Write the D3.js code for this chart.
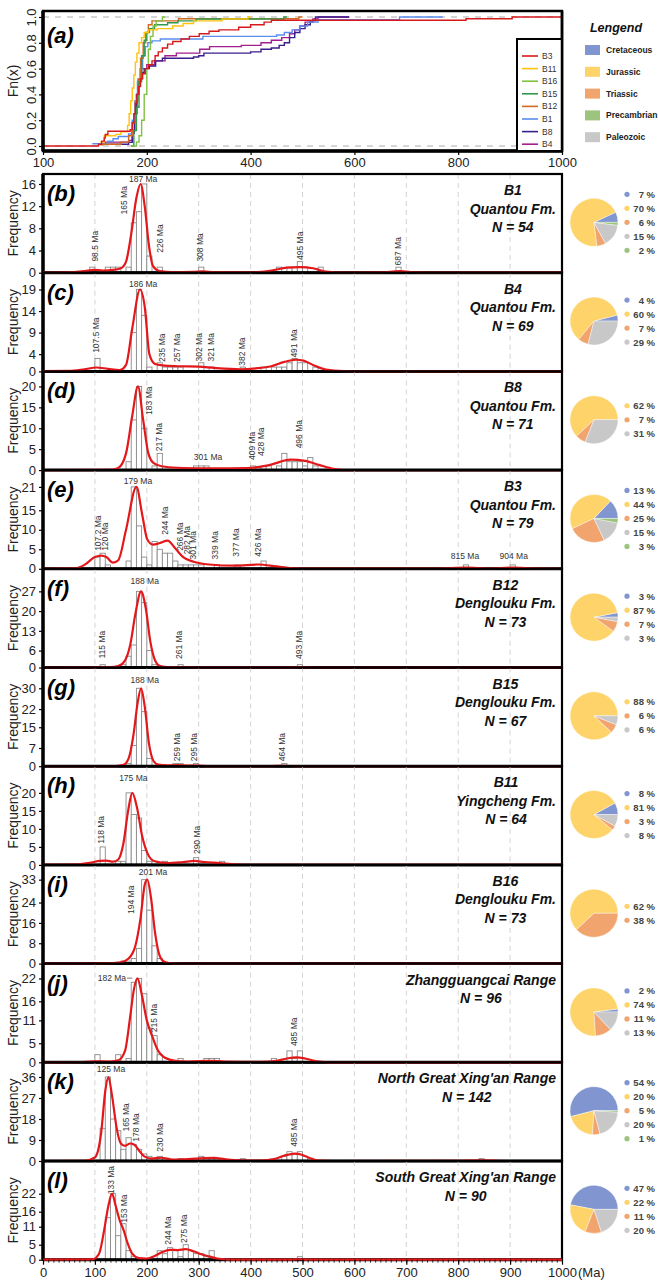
<!DOCTYPE html>
<html>
<head>
<meta charset="utf-8">
<script src="https://cdn.jsdelivr.net/npm/d3@7"></script>
<style>
  body { margin: 0; background: #fff; }
  svg { display: block; }
  text { font-family: "Liberation Sans", Arial, sans-serif; }
</style>
</head>
<body>
<svg id="chart" width="658" height="1286"></svg>
<script>
// ---- data: panel (a), cumulative curves ----
const cdfTickVals = [0, 200, 400, 600, 800, 1000];
const cdfTickLabels = ["100", "200", "400", "600", "800", "1000"];
const fnTicks = [0, 0.2, 0.4, 0.6, 0.8, 1.0];
const cdfNames = ["B3", "B11", "B16", "B15", "B12", "B1", "B8", "B4"];

const cdfB3 = [[0,0],[107,0.013],[113,0.038],[118,0.063],[120,0.089],[125,0.114],[168,0.127],[172,0.18],[175,0.25],[178,0.33],[181,0.4],[184,0.46],[188,0.52],[192,0.56],[197,0.6],[203,0.63],[210,0.66],[216,0.7],[222,0.73],[230,0.76],[240,0.79],[250,0.81],[266,0.83],[282,0.85],[301,0.87],[320,0.89],[339,0.9],[377,0.92],[400,0.94],[426,0.96],[440,0.975],[815,0.987],[904,1.0],[1000,1.0]];
const cdfB11 = [[110,0.03],[118,0.08],[140,0.09],[150,0.11],[163,0.16],[166,0.25],[169,0.35],[172,0.45],[175,0.55],[178,0.65],[181,0.72],[185,0.8],[190,0.84],[195,0.88],[203,0.9],[220,0.91],[250,0.93],[270,0.95],[290,0.97],[345,0.985],[395,1.0],[400,1.0]];
const cdfB16 = [[170,0],[180,0.03],[185,0.08],[190,0.2],[195,0.4],[200,0.6],[203,0.75],[207,0.85],[212,0.93],[218,0.97],[230,1.0],[235,1.0]];
const cdfB15 = [[170,0],[175,0.12],[180,0.3],[185,0.5],[190,0.7],[195,0.82],[200,0.88],[205,0.91],[215,0.94],[240,0.955],[260,0.97],[295,0.985],[464,1.0],[470,1.0]];
const cdfB12 = [[110,0.01],[115,0.014],[150,0.03],[165,0.08],[172,0.18],[178,0.35],[183,0.52],[188,0.68],[193,0.8],[198,0.88],[203,0.94],[210,0.97],[261,0.986],[493,1.0],[500,1.0]];
const cdfB1 = [[95,0.018],[125,0.037],[135,0.056],[145,0.074],[165,0.093],[172,0.2],[177,0.35],[182,0.5],[187,0.6],[192,0.7],[197,0.77],[202,0.8],[210,0.815],[226,0.83],[308,0.85],[450,0.86],[465,0.88],[480,0.9],[495,0.93],[510,0.96],[530,0.98],[687,1.0],[770,1.0]];
const cdfB8 = [[120,0.014],[165,0.028],[172,0.1],[176,0.25],[180,0.4],[184,0.5],[188,0.57],[195,0.6],[205,0.62],[217,0.66],[230,0.68],[290,0.69],[300,0.7],[310,0.72],[400,0.73],[420,0.75],[440,0.76],[455,0.78],[465,0.8],[475,0.84],[485,0.88],[495,0.91],[505,0.94],[515,0.97],[525,1.0],[590,1.0]];
const cdfB4 = [[107,0.014],[120,0.03],[165,0.043],[172,0.12],[177,0.25],[181,0.4],[185,0.52],[190,0.6],[200,0.63],[215,0.66],[235,0.7],[257,0.72],[302,0.75],[321,0.77],[382,0.78],[420,0.8],[440,0.82],[460,0.84],[475,0.87],[485,0.9],[495,0.93],[505,0.96],[520,0.985],[530,1.0],[590,1.0]];

// ---- data: histogram panels (bins of 10 Ma: [start, count]) ----
const binsB1 = [[90,1],[120,1],[130,1],[140,1],[160,1],[170,9],[180,11],[190,16],[200,3],[220,1],[300,1],[450,1],[470,1],[480,1],[490,2],[500,1],[530,1],[680,1]];
const binsB4 = [[100,3],[170,9],[180,19],[190,13],[200,1],[220,2],[230,1],[240,1],[250,1],[260,1],[300,2],[320,1],[380,1],[420,1],[440,1],[450,1],[460,1],[470,2],[480,3],[490,2],[500,2],[520,1]];
const binsB8 = [[160,2],[170,12],[180,20],[190,10],[210,1],[220,4],[290,1],[300,1],[310,1],[400,1],[420,1],[430,1],[450,1],[460,4],[470,2],[480,2],[490,2],[500,1],[510,3],[520,1]];
const binsB3 = [[100,3],[110,4],[120,1],[160,2],[170,21],[180,11],[190,3],[200,1],[210,7],[220,5],[230,4],[240,4],[250,2],[260,1],[270,1],[280,1],[290,1],[300,1],[330,1],[370,1],[420,2],[810,1],[900,1]];
const binsB12 = [[110,1],[150,1],[160,4],[170,8],[180,27],[190,23],[200,6],[210,1],[260,1],[490,1]];
const binsB15 = [[160,1],[170,8],[180,30],[190,21],[200,3],[250,1],[260,1],[290,1],[460,1]];
const binsB11 = [[110,5],[140,1],[150,1],[160,20],[170,14],[180,13],[190,4],[200,1],[210,1],[230,1],[290,2],[340,1]];
const binsB16 = [[150,1],[160,1],[170,2],[180,6],[190,33],[200,21],[210,7],[220,2]];
const binsZG = [[100,2],[140,2],[160,1],[170,21],[180,22],[190,18],[200,9],[210,7],[220,2],[260,1],[310,1],[320,1],[330,1],[440,1],[470,3],[480,1],[490,3]];
const binsNG = [[110,14],[120,36],[130,18],[140,13],[150,5],[160,10],[170,7],[180,5],[190,3],[200,2],[210,1],[220,2],[230,1],[260,1],[280,1],[290,1],[300,2],[310,1],[320,1],[330,1],[380,1],[460,2],[470,4],[480,3],[490,4],[500,2],[840,1]];
const binsSG = [[120,14],[130,22],[140,8],[150,12],[160,3],[170,1],[220,3],[230,2],[240,4],[250,3],[260,1],[270,5],[280,3],[290,2],[300,2],[310,1],[320,3],[490,1]];

// density curves: [age, frequency]
const kdeB1 = [[0,0],[40,0.05],[80,0.3],[98,0.5],[115,0.4],[135,0.5],[150,0.8],[160,2],[170,7],[180,13.5],[188,16],[196,12],[204,5],[212,1.2],[225,0.3],[250,0.1],[290,0.15],[308,0.25],[330,0.1],[400,0.05],[440,0.4],[470,0.9],[495,1.0],[520,0.8],[545,0.2],[580,0.02],[650,0.05],[687,0.3],[720,0.05],[760,0],[1000,0]];
const kdeB4 = [[0,0.05],[50,0.1],[80,0.5],[103,0.9],[125,0.6],[148,0.3],[160,1.5],[172,10],[187,19],[196,15],[205,4],[215,1.8],[230,1.4],[260,1.2],[300,1.1],[330,0.8],[380,0.5],[410,0.7],[440,1.2],[465,2.2],[487,2.7],[502,2.5],[520,1.5],[545,0.4],[580,0.05],[620,0],[1000,0]];
const kdeB8 = [[0,0],[130,0.05],[145,0.5],[160,4],[172,13],[183,20],[193,12],[203,4],[214,1.6],[235,0.8],[270,0.5],[325,0.4],[394,0.5],[436,1.2],[477,2.5],[505,2.2],[533,1.2],[560,0.3],[580,0],[1000,0]];
const kdeB3 = [[0,0],[60,0.1],[80,1],[100,3],[112,3.4],[122,3],[135,1.6],[145,2.2],[160,10],[180,21],[191,14],[201,7.5],[212,6.2],[225,6.6],[240,7.2],[255,5.2],[270,3],[290,1.8],[320,1.1],[370,0.8],[415,1.1],[450,0.6],[480,0.2],[520,0.05],[760,0.05],[815,0.3],[860,0.05],[904,0.3],[950,0.05],[1000,0]];
const kdeB12 = [[0,0],[100,0.02],[115,0.15],[130,0.1],[145,0.5],[158,2.5],[168,8],[178,19],[189,27],[198,21],[207,9],[216,2.5],[226,0.5],[240,0.1],[261,0.15],[290,0.02],[470,0.02],[493,0.1],[520,0],[1000,0]];
const kdeB15 = [[0,0],[140,0.05],[155,0.5],[165,3],[175,13],[182,24],[189,30],[196,23],[204,9],[213,2],[222,0.6],[240,0.3],[259,0.4],[280,0.2],[295,0.25],[320,0.05],[440,0.05],[464,0.15],[490,0],[1000,0]];
const kdeB11 = [[0,0],[60,0.05],[90,0.6],[110,1.1],[122,1.2],[135,0.9],[145,1.5],[155,6],[164,15],[172,20],[181,16],[191,8],[202,3],[215,1],[240,0.5],[270,0.8],[292,1.1],[310,0.8],[340,0.5],[370,0.15],[410,0],[1000,0]];
const kdeB16 = [[0,0],[120,0.05],[150,0.5],[165,2],[178,7],[188,18],[196,31],[201,33],[208,26],[216,12],[225,3],[235,0.6],[250,0.05],[270,0],[1000,0]];
const kdeZG = [[0,0],[70,0.05],[100,0.25],[130,0.2],[145,0.5],[158,3],[168,12],[175,19],[182,22],[190,18],[200,11],[210,7],[220,3.5],[235,1.2],[255,0.4],[280,0.2],[320,0.4],[350,0.2],[420,0.1],[450,0.4],[470,1],[488,1.3],[505,1],[525,0.3],[550,0],[1000,0]];
const kdeNG = [[0,0],[80,0.05],[100,1.5],[112,12],[120,30],[126,36],[133,28],[142,14],[150,7.5],[158,6.5],[168,7.5],[176,7],[185,4.5],[195,2],[210,1],[228,1.4],[250,0.6],[280,0.8],[310,1.2],[330,1.3],[350,0.8],[380,0.3],[420,0.2],[445,0.8],[465,2.3],[485,3.2],[500,2.6],[515,1.2],[530,0.2],[560,0],[800,0.05],[845,0.25],[890,0],[1000,0]];
const kdeSG = [[0,0],[95,0.1],[108,2],[118,10],[126,18],[133,22],[140,18],[148,13],[155,10],[163,5.5],[172,2],[185,0.5],[200,0.4],[215,1.2],[230,2.6],[245,3.3],[260,3.2],[275,3.5],[290,2.8],[305,1.8],[320,1.1],[335,0.4],[360,0.05],[480,0.05],[490,0.15],[510,0],[1000,0]];

// peak labels: [text, age, frequency under the label, r = rotated / h = level / e = level, left of peak]
const peaksB1 = [["98.5 Ma",100,2,"r"],["165 Ma",157,10.5,"r"],["187 Ma",193,16.3,"h"],["226 Ma",225,3.6,"r"],["308 Ma",303,2,"r"],["495 Ma",495,2.3,"r"],["687 Ma",684,1.3,"r"]];
const peaksB4 = [["107.5 Ma",103,4.3,"r"],["186 Ma",193,19.5,"h"],["235 Ma",229,2.2,"r"],["257 Ma",259,2.2,"r"],["302 Ma",301,2.3,"r"],["321 Ma",324,2.3,"r"],["382 Ma",384,1.3,"r"],["491 Ma",483,3.2,"r"]];
const peaksB8 = [["183 Ma",204,13.2,"r"],["217 Ma",223,4.5,"r"],["301 Ma",318,2.4,"h"],["409 Ma",403,2.4,"r"],["428 Ma",421,3.4,"r"],["496 Ma",493,5.2,"r"]];
const peaksB3 = [["107.2 Ma",106,4.6,"r"],["120 Ma",119,4.6,"r"],["179 Ma",183,21.8,"h"],["244 Ma",235,8.7,"r"],["266 Ma",264,4.6,"r"],["282 Ma",277,3.7,"r"],["301 Ma",289,2.4,"r"],["339 Ma",332,2.4,"r"],["377 Ma",372,3.1,"r"],["426 Ma",415,3.1,"r"],["815 Ma",813,2.6,"h"],["904 Ma",907,2.6,"h"]];
const peaksB12 = [["115 Ma",114,3.2,"r"],["188 Ma",196,29.5,"h"],["261 Ma",263,3,"r"],["493 Ma",493,3,"r"]];
const peaksB15 = [["188 Ma",196,31.9,"h"],["259 Ma",258,1.9,"r"],["295 Ma",290,1.9,"r"],["464 Ma",460,1.9,"r"]];
const peaksB11 = [["118 Ma",112,5.9,"r"],["175 Ma",174,23.3,"h"],["290 Ma",297,3,"r"]];
const peaksB16 = [["194 Ma",169,19.5,"r"],["201 Ma",212,34.9,"h"]];
const peaksZG = [["182 Ma",160,21.3,"e"],["215 Ma",214,7.9,"r"],["485 Ma",483,4.3,"r"]];
const peaksNG = [["125 Ma",131,38,"h"],["165 Ma",160,12.6,"r"],["178 Ma",180,8.3,"r"],["230 Ma",225,4,"r"],["485 Ma",483,6.1,"r"]];
const peaksSG = [["133 Ma",131,21.8,"r"],["153 Ma",157,12.3,"r"],["244 Ma",241,5,"r"],["275 Ma",271,5.6,"r"]];

// source-age proportions (%)
const pieB1 = [["Cretaceous",7],["Jurassic",70],["Triassic",6],["Paleozoic",15],["Precambrian",2]];
const pieB4 = [["Cretaceous",4],["Jurassic",60],["Triassic",7],["Paleozoic",29]];
const pieB8 = [["Jurassic",62],["Triassic",7],["Paleozoic",31]];
const pieB3 = [["Cretaceous",13],["Jurassic",44],["Triassic",25],["Paleozoic",15],["Precambrian",3]];
const pieB12 = [["Cretaceous",3],["Jurassic",87],["Triassic",7],["Paleozoic",3]];
const pieB15 = [["Jurassic",88],["Triassic",6],["Paleozoic",6]];
const pieB11 = [["Cretaceous",8],["Jurassic",81],["Triassic",3],["Paleozoic",8]];
const pieB16 = [["Jurassic",62],["Triassic",38]];
const pieZG = [["Cretaceous",2],["Jurassic",74],["Triassic",11],["Paleozoic",13]];
const pieNG = [["Cretaceous",54],["Jurassic",20],["Triassic",5],["Paleozoic",20],["Precambrian",1]];
const pieSG = [["Cretaceous",47],["Jurassic",22],["Triassic",11],["Paleozoic",20]];

const periodNames = ["Cretaceous", "Jurassic", "Triassic", "Precambrian", "Paleozoic"];

const panelLetters = ["b","c","d","e","f","g","h","i","j","k","l"];
const panelTitles = [["B1","Quantou Fm."],["B4","Quantou Fm."],["B8","Quantou Fm."],["B3","Quantou Fm."],["B12","Denglouku Fm."],["B15","Denglouku Fm."],["B11","Yingcheng Fm."],["B16","Denglouku Fm."],["Zhangguangcai Range"],["North Great Xing'an Range"],["South Great Xing'an Range"]];
const panelN = [54, 69, 71, 79, 73, 67, 64, 73, 96, 142, 90];
const panelTicks = [[0,4,8,12,16],[0,4,9,14,19],[0,5,10,15,20],[0,5,10,15,21],[0,6,13,20,27],[0,7,15,22,30],[0,5,10,15,20],[0,8,16,24,33],[0,5,11,16,22],[0,9,18,27,36],[0,5,11,16,22]];
const panelYMax = [17.8, 22.9, 23.6, 25.3, 35, 38, 27.4, 38.8, 25.9, 42.3, 32.9];
const ageTicks = [0,100,200,300,400,500,600,700,800,900,1000];

// ---- table built from the arrays above ----
const cdfData = [cdfB3, cdfB11, cdfB16, cdfB15, cdfB12, cdfB1, cdfB8, cdfB4];
const panelBins = [binsB1, binsB4, binsB8, binsB3, binsB12, binsB15, binsB11, binsB16, binsZG, binsNG, binsSG];
const panelKde = [kdeB1, kdeB4, kdeB8, kdeB3, kdeB12, kdeB15, kdeB11, kdeB16, kdeZG, kdeNG, kdeSG];
const panelPeaks = [peaksB1, peaksB4, peaksB8, peaksB3, peaksB12, peaksB15, peaksB11, peaksB16, peaksZG, peaksNG, peaksSG];
const panelPies = [pieB1, pieB4, pieB8, pieB3, pieB12, pieB15, pieB11, pieB16, pieZG, pieNG, pieSG];

// ---- styles ----
const cdfColors = ["#d7191c", "#ffc20e", "#7dc242", "#2f9a4c", "#d2691e", "#5b8def", "#3a1f8c", "#a21f8e"];
const periodColors = { Cretaceous: "#8196d0", Jurassic: "#fdd36a", Triassic: "#f1a46d", Precambrian: "#9cc47c", Paleozoic: "#c8c8c8" };

const X0 = 43, X1 = 562;
const aTop = 11, aBot = 151;
const pTop = 174, pH = 98.7;
const pieX = 594, pieR = 24;

const svg = d3.select("#chart");
const x = d3.scaleLinear().domain([0, 1000]).range([X0, X1]);

function styleAxis(g, size) {
  g.select(".domain").remove();
  g.selectAll(".tick line").attr("stroke", "#000").attr("stroke-width", 1.2);
  g.selectAll(".tick text").attr("font-size", size).attr("fill", "#222")
    .style("font-family", '"Liberation Sans", Arial, sans-serif');
}

// ================= panel (a) =================
const gA = svg.append("g");
const yA = d3.scaleLinear().domain([0, 1]).range([146, 17]);

gA.selectAll("line.ref").data([0, 1]).join("line")
  .attr("x1", X0).attr("x2", X1)
  .attr("y1", d => yA(d)).attr("y2", d => yA(d))
  .attr("stroke", "#c8c8c8").attr("stroke-width", 1.6).attr("stroke-dasharray", "6,6");

const stepLine = d3.line().x(d => x(d[0])).y(d => yA(d[1])).curve(d3.curveStepAfter);
for (let i = cdfData.length - 1; i >= 0; i--) {
  gA.append("path").attr("d", stepLine(cdfData[i]))
    .attr("fill", "none").attr("stroke", cdfColors[i]).attr("stroke-width", 1.4);
}

gA.append("rect").attr("x", X0).attr("y", aTop).attr("width", X1 - X0).attr("height", aBot - aTop)
  .attr("fill", "none").attr("stroke", "#000").attr("stroke-width", 2.5);
gA.append("line").attr("x1", X0).attr("x2", X0).attr("y1", aTop).attr("y2", aBot)
  .attr("stroke", "#000").attr("stroke-width", 3.5);
gA.append("line").attr("x1", X0).attr("x2", X1).attr("y1", aBot).attr("y2", aBot)
  .attr("stroke", "#000").attr("stroke-width", 3.5);

const axA = gA.append("g").attr("transform", `translate(0,${aBot})`)
  .call(d3.axisBottom(x).tickValues(cdfTickVals).tickFormat((d, i) => cdfTickLabels[i]).tickSize(4).tickPadding(3));
styleAxis(axA, 13);

const ayA = gA.append("g").attr("transform", `translate(${X0},0)`)
  .call(d3.axisLeft(yA).tickValues(fnTicks).tickFormat(d3.format(".1f")).tickSize(4));
styleAxis(ayA, 13);
ayA.selectAll(".tick text").attr("transform", "rotate(-90)")
  .attr("x", 0).attr("y", -7).attr("dy", 0).attr("text-anchor", "middle");

gA.append("text").attr("transform", `translate(18,${(aTop + aBot) / 2}) rotate(-90)`)
  .attr("text-anchor", "middle").attr("font-size", 14).attr("fill", "#222").text("Fn(x)");
gA.append("text").attr("x", 47).attr("y", aTop + 32).attr("font-size", 22)
  .attr("font-weight", "bold").attr("font-style", "italic").text("(a)");

// legend inside (a)
const lg = gA.append("g");
lg.append("rect").attr("x", 517).attr("y", 39).attr("width", X1 - 517).attr("height", aBot - 39)
  .attr("fill", "#fff").attr("stroke", "#000").attr("stroke-width", 2);
cdfNames.forEach((n, i) => {
  const yy = 56 + i * 12.6;
  lg.append("line").attr("x1", 522).attr("x2", 538).attr("y1", yy).attr("y2", yy)
    .attr("stroke", cdfColors[i]).attr("stroke-width", 1.6);
  lg.append("text").attr("x", 542).attr("y", yy + 3).attr("font-size", 8.5).attr("fill", "#333").text(n);
});
gA.append("line").attr("x1", X1).attr("x2", X1).attr("y1", aTop).attr("y2", aBot)
  .attr("stroke", "#000").attr("stroke-width", 2.5);

// period legend (top right)
const pl = svg.append("g");
pl.append("text").attr("x", 616).attr("y", 32).attr("text-anchor", "middle")
  .attr("font-size", 12.5).attr("font-weight", "bold").attr("font-style", "italic").attr("fill", "#111").text("Lengend");
periodNames.forEach((p, i) => {
  const yy = 50 + i * 21.8;
  pl.append("rect").attr("x", 585).attr("y", yy - 5).attr("width", 15).attr("height", 10).attr("fill", periodColors[p]);
  pl.append("text").attr("x", 606).attr("y", yy + 3).attr("font-size", 8.5)
    .attr("font-weight", "bold").attr("fill", "#222").text(p);
});

// ================= histogram panels =================
const kdeLine = d3.line().curve(d3.curveMonotoneX);
const pie = d3.pie().value(d => d[1]).sort(null)
  .startAngle(Math.PI / 2).endAngle(Math.PI / 2 - 2 * Math.PI);
const arc = d3.arc().innerRadius(0).outerRadius(pieR);

panelLetters.forEach((letter, i) => {
  const top = pTop + i * pH, base = top + pH;
  const y = d3.scaleLinear().domain([0, panelYMax[i]]).range([base, top]);
  const g = svg.append("g");

  // dashed grid
  g.selectAll("line.grid").data(ageTicks.slice(1, -1)).join("line")
    .attr("x1", d => x(d)).attr("x2", d => x(d)).attr("y1", top).attr("y2", base)
    .attr("stroke", "#d4d4d4").attr("stroke-width", 1).attr("stroke-dasharray", "5,4");

  // histogram bars
  g.selectAll("rect.bar").data(panelBins[i]).join("rect")
    .attr("x", d => x(d[0])).attr("width", d => x(d[0] + 10) - x(d[0]))
    .attr("y", d => y(d[1])).attr("height", d => base - y(d[1]))
    .attr("fill", "#fff").attr("stroke", "#8a8a8a").attr("stroke-width", 0.9);

  // box and axes
  g.append("rect").attr("x", X0).attr("y", top).attr("width", X1 - X0).attr("height", pH)
    .attr("fill", "none").attr("stroke", "#000").attr("stroke-width", 2.2);
  g.append("line").attr("x1", X0).attr("x2", X0).attr("y1", top).attr("y2", base)
    .attr("stroke", "#000").attr("stroke-width", 3.5);
  g.append("line").attr("x1", X0).attr("x2", X1).attr("y1", base).attr("y2", base)
    .attr("stroke", "#000").attr("stroke-width", 3);

  const ay = g.append("g").attr("transform", `translate(${X0},0)`)
    .call(d3.axisLeft(y).tickValues(panelTicks[i]).tickFormat(d3.format("d")).tickSize(4).tickPadding(3));
  styleAxis(ay, 13);

  // density curve
  g.append("path").attr("d", kdeLine(panelKde[i].map(d => [x(d[0]), y(d[1])])))
    .attr("fill", "none").attr("stroke", "#e3181b").attr("stroke-width", 2.2);

  // peak labels
  panelPeaks[i].forEach(p => {
    const px = x(p[1]), py = y(p[2]);
    const t = g.append("text").attr("font-size", 8.5).attr("fill", "#333").text(p[0]);
    if (p[3] === "r") {
      t.attr("transform", `translate(${px + 3},${py}) rotate(-90)`).attr("text-anchor", "start");
    } else if (p[3] === "h") {
      t.attr("x", px).attr("y", py).attr("text-anchor", "middle");
    } else {
      t.attr("x", px).attr("y", py).attr("text-anchor", "end");
      g.append("line").attr("x1", px + 1).attr("x2", x(172)).attr("y1", py - 3).attr("y2", py - 3)
        .attr("stroke", "#555").attr("stroke-width", 0.8);
    }
  });

  // y label and panel letter
  g.append("text").attr("transform", `translate(18,${top + pH / 2}) rotate(-90)`)
    .attr("text-anchor", "middle").attr("font-size", 14).attr("fill", "#222").text("Frequency");
  g.append("text").attr("x", 47).attr("y", top + 27).attr("font-size", 22)
    .attr("font-weight", "bold").attr("font-style", "italic").text(`(${letter})`);

  // title block
  const lines = panelTitles[i].concat([`N = ${panelN[i]}`]);
  const tg = g.append("g");
  const tt = tg.selectAll("text").data(lines).join("text")
    .attr("y", (d, k) => top + 21 + k * 18.5)
    .attr("font-size", 14).attr("font-weight", "bold").attr("font-style", "italic")
    .attr("fill", "#111").attr("text-anchor", "middle").text(d => d);
  let wMax = 0;
  tt.each(function () { wMax = Math.max(wMax, this.getComputedTextLength()); });
  tt.attr("x", 556 - wMax / 2);

  // pie and its legend
  const cy = top + pH / 2 - 1;
  const pg = g.append("g").attr("transform", `translate(${pieX},${cy})`);
  pg.selectAll("path").data(pie(panelPies[i])).join("path")
    .attr("d", arc).attr("fill", d => periodColors[d.data[0]])
    .attr("stroke", "#fff").attr("stroke-width", 0.4);
  const n = panelPies[i].length;
  panelPies[i].forEach((d, k) => {
    const yy = cy + (k - (n - 1) / 2) * 14;
    g.append("circle").attr("cx", 627).attr("cy", yy).attr("r", 2.6).attr("fill", periodColors[d[0]]);
    g.append("text").attr("x", 655).attr("y", yy + 3.5).attr("text-anchor", "end")
      .attr("font-size", 9.5).attr("font-weight", "bold").attr("fill", "#444").text(`${d[1]} %`);
  });

  // bottom axis on last panel
  if (i === panelLetters.length - 1) {
    const minor = g.append("g").attr("transform", `translate(0,${base})`)
      .call(d3.axisBottom(x).tickValues(d3.range(0, 1001, 10)).tickFormat("").tickSize(3));
    styleAxis(minor, 0);
    minor.selectAll(".tick line").attr("stroke-width", 0.8);
    const ax = g.append("g").attr("transform", `translate(0,${base})`)
      .call(d3.axisBottom(x).tickValues(ageTicks).tickFormat(d3.format("d")).tickSize(5).tickPadding(3));
    styleAxis(ax, 13);
    g.append("text").attr("x", x(1000) + 16).attr("y", base + 17).attr("font-size", 13)
      .attr("fill", "#222").text("(Ma)");
  }
});
</script>
</body>
</html>
